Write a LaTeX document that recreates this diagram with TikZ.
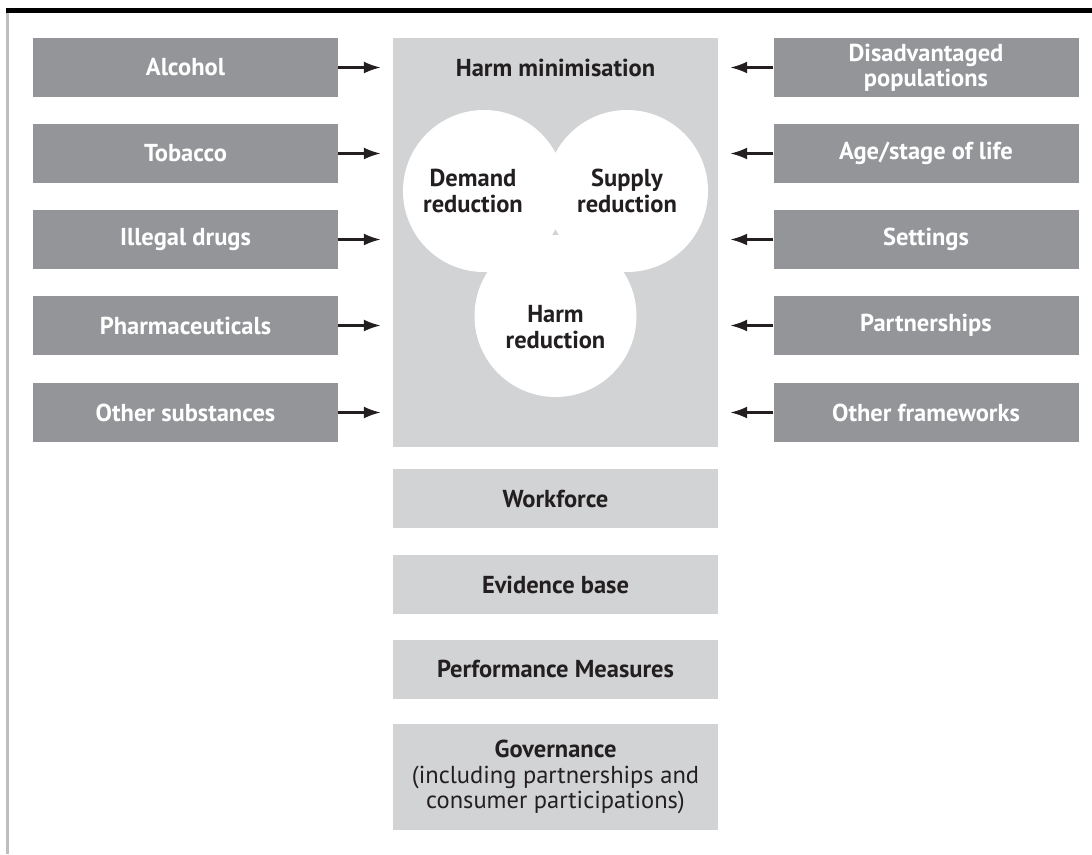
\documentclass[tikz,border=0pt]{standalone}
\usepackage{fontspec}
\setmainfont{PT Sans}
\usepackage{xcolor}
\usetikzlibrary{arrows.meta}
\definecolor{boxdark}{HTML}{939598}
\definecolor{boxlight}{HTML}{D1D3D4}
\definecolor{rulegray}{HTML}{BCBEC0}
\definecolor{ink}{HTML}{231F20}
\newcommand{\lbl}{\fontsize{24.5}{25.5}\selectfont\bfseries}

\tikzset{
  factor/.style={fill=boxdark, text=white, font=\lbl, minimum width=305pt, minimum height=59pt, inner sep=0pt, align=center},
  pillar/.style={fill=boxlight, text=ink, font=\lbl, minimum width=325pt, minimum height=59pt, inner sep=0pt, align=center},
  strand/.style={circle, fill=white, minimum size=162pt, inner sep=0pt},
  feed/.style={-{Latex[length=17pt, width=12pt]}, line width=2.4pt, ink, shorten >=12pt}
}

\begin{document}
\begin{tikzpicture}[x=1pt, y=-1pt]
\useasboundingbox (0, 0) rectangle (1092, 854);
\fill [black](6, 8) rectangle (1092, 13);
\fill [rulegray](6, 13) rectangle (9, 854);

% central frame
\node [fill=boxlight, minimum width=325pt, minimum height=409pt, inner sep=0pt](hub) at (555.5, 242.5){};
\node [text=ink, font=\lbl](title) at (555.5, 68){Harm minimisation};
\node [strand](dem) at (484, 191){};
\node [strand](sup) at (627, 191){};
\node [strand](red) at (555.5, 316){};
\node [text=ink, font=\lbl, align=center] at ([xshift=-11pt]dem.center){Demand\\reduction};
\node [text=ink, font=\lbl, align=center] at (sup.center){Supply\\reduction};
\node [text=ink, font=\lbl, align=center] at ([yshift=-11pt]red.center){Harm\\reduction};

% substances
\node [factor](alc) at (185.5, 67.5){Alcohol};
\node [factor](tob) at (185.5, 153.5){Tobacco};
\node [factor](ill) at (185.5, 239.5){Illegal drugs};
\node [factor](pha) at (185.5, 325.5){Pharmaceuticals};
\node [factor](oth) at (185.5, 412.5){Other substances};

% population and context
\node [factor](dis) at (926, 67.5){Disadvantaged\\populations};
\node [factor](age) at (926, 153.5){Age/stage of life};
\node [factor](set) at (926, 239.5){Settings};
\node [factor](par) at (926, 325.5){Partnerships};
\node [factor](frm) at (926, 412.5){Other frameworks};

\draw [feed](alc.east) -- (alc.east -| hub.west);
\draw [feed](tob.east) -- (tob.east -| hub.west);
\draw [feed](ill.east) -- (ill.east -| hub.west);
\draw [feed](pha.east) -- (pha.east -| hub.west);
\draw [feed](oth.east) -- (oth.east -| hub.west);
\draw [feed](dis.west) -- (dis.west -| hub.east);
\draw [feed](age.west) -- (age.west -| hub.east);
\draw [feed](set.west) -- (set.west -| hub.east);
\draw [feed](par.west) -- (par.west -| hub.east);
\draw [feed](frm.west) -- (frm.west -| hub.east);

% supporting pillars
\node [pillar](wrk) at (555.5, 498.5){Workforce};
\node [pillar](evi) at (555.5, 584.5){Evidence base};
\node [pillar](per) at (555.5, 669){Performance Measures};
\node [pillar, minimum height=106pt](gov) at (555.5, 777){Governance\\{\mdseries(including partnerships and}\\{\mdseries consumer participations)}};
\end{tikzpicture}
\end{document}
